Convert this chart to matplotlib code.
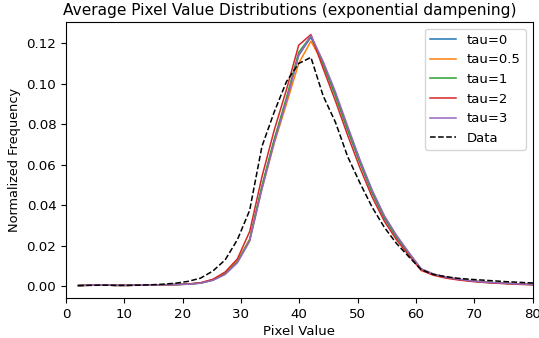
import numpy as np
import matplotlib
matplotlib.use("Agg")
import matplotlib.pyplot as plt

# bin centres of the pixel histogram
pixel = [2.1, 4.2, 6.3, 8.4, 10.5, 12.6, 14.7, 16.8, 18.9, 21.0,
         23.1, 25.2, 27.3, 29.4, 31.5, 33.6, 35.7, 37.8, 39.9, 42.0,
         44.1, 46.2, 48.3, 50.4, 52.5, 54.6, 56.7, 58.8, 60.9, 63.0,
         65.1, 67.2, 69.3, 71.4, 73.5, 75.6, 77.7, 79.8, 81.9]

tau0 = [0.0003, 0.0005, 0.0006, 0.0004, 0.0004, 0.0005, 0.0006, 0.0007, 0.0008, 0.0010,
        0.0016, 0.0031, 0.0062, 0.0122, 0.0230, 0.0490, 0.0720, 0.0920, 0.1140, 0.1230,
        0.1095, 0.0940, 0.0770, 0.0610, 0.0460, 0.0335, 0.0240, 0.0160, 0.0083, 0.0058,
        0.0044, 0.0034, 0.0027, 0.0021, 0.0017, 0.0014, 0.0011, 0.0009, 0.0007]
tau05 = [0.0003, 0.0005, 0.0006, 0.0004, 0.0004, 0.0005, 0.0006, 0.0007, 0.0008, 0.0010,
         0.0016, 0.0032, 0.0064, 0.0125, 0.0232, 0.0480, 0.0705, 0.0900, 0.1100, 0.1210,
         0.1100, 0.0950, 0.0780, 0.0620, 0.0470, 0.0345, 0.0248, 0.0165, 0.0085, 0.0060,
         0.0045, 0.0035, 0.0027, 0.0021, 0.0017, 0.0014, 0.0011, 0.0009, 0.0007]
tau1 = [0.0003, 0.0005, 0.0006, 0.0004, 0.0004, 0.0005, 0.0006, 0.0007, 0.0008, 0.0010,
        0.0015, 0.0030, 0.0060, 0.0120, 0.0228, 0.0495, 0.0725, 0.0930, 0.1155, 0.1235,
        0.1100, 0.0945, 0.0775, 0.0615, 0.0465, 0.0340, 0.0243, 0.0162, 0.0083, 0.0058,
        0.0044, 0.0034, 0.0026, 0.0020, 0.0016, 0.0013, 0.0010, 0.0008, 0.0006]
tau2 = [0.0003, 0.0005, 0.0006, 0.0004, 0.0004, 0.0005, 0.0006, 0.0007, 0.0008, 0.0011,
        0.0017, 0.0034, 0.0070, 0.0135, 0.0270, 0.0540, 0.0770, 0.0970, 0.1190, 0.1243,
        0.1075, 0.0915, 0.0745, 0.0585, 0.0440, 0.0320, 0.0228, 0.0152, 0.0078, 0.0054,
        0.0040, 0.0031, 0.0024, 0.0019, 0.0015, 0.0012, 0.0009, 0.0007, 0.0005]
tau3 = [0.0003, 0.0005, 0.0006, 0.0004, 0.0004, 0.0005, 0.0006, 0.0007, 0.0008, 0.0010,
        0.0015, 0.0029, 0.0058, 0.0116, 0.0222, 0.0480, 0.0710, 0.0915, 0.1140, 0.1238,
        0.1110, 0.0960, 0.0790, 0.0625, 0.0475, 0.0348, 0.0250, 0.0166, 0.0086, 0.0060,
        0.0045, 0.0035, 0.0027, 0.0021, 0.0017, 0.0014, 0.0011, 0.0009, 0.0007]
data = [0.0003, 0.0004, 0.0005, 0.0004, 0.0004, 0.0005, 0.0007, 0.0010, 0.0015, 0.0024,
        0.0040, 0.0075, 0.0130, 0.0230, 0.0375, 0.0690, 0.0860, 0.1010, 0.1100, 0.1130,
        0.0940, 0.0810, 0.0640, 0.0510, 0.0390, 0.0290, 0.0210, 0.0145, 0.0082, 0.0058,
        0.0047, 0.0039, 0.0034, 0.0030, 0.0026, 0.0022, 0.0019, 0.0016, 0.0014]

series = [tau0, tau05, tau1, tau2, tau3]
labels = ["tau=0", "tau=0.5", "tau=1", "tau=2", "tau=3"]

fig = plt.figure(figsize=(5.39, 3.38), dpi=100)
ax = fig.add_subplot(111)
fig.subplots_adjust(left=0.1224, right=0.988, top=0.935, bottom=0.118)

for vals, lab in zip(series, labels):
    ax.plot(pixel, vals, label=lab, linewidth=1.1)
ax.plot(pixel, data, "k--", label="Data", linewidth=1.1)

ax.set_xlim(0, 80)
ax.tick_params(labelsize=9.6)
ax.set_title("Average Pixel Value Distributions (exponential dampening)",
             fontsize=11.1, x=0.48, pad=5)
ax.set_xlabel("Pixel Value", fontsize=9.5, labelpad=3)
ax.set_ylabel("Normalized Frequency", fontsize=9.3, labelpad=4)
ax.legend(loc="upper right", fontsize=9.5)

fig.savefig("out.png", dpi=100)
